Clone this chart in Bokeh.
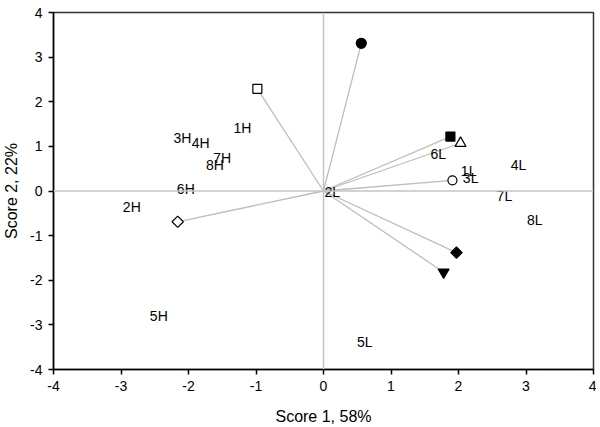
import math
from bokeh.plotting import figure
from bokeh.models import ColumnDataSource, Span, FixedTicker
from bokeh.core.properties import value
from bokeh.embed import file_html
from bokeh.resources import INLINE

# Observation scores (labels)
obs_labels = ["1H", "2H", "3H", "4H", "5H", "6H", "7H", "8H",
              "1L", "2L", "3L", "4L", "5L", "6L", "7L", "8L"]
obs_x = [-1.20, -2.84, -2.09, -1.82, -2.44, -2.04, -1.50, -1.61,
         2.15, 0.13, 2.18, 2.89, 0.61, 1.70, 2.68, 3.13]
obs_y = [1.42, -0.36, 1.18, 1.07, -2.80, 0.04, 0.73, 0.58,
         0.44, -0.02, 0.29, 0.58, -3.38, 0.84, -0.11, -0.64]

# Loading vectors (markers)
load_x = [0.56, -0.98, 1.88, 2.03, 1.91, 1.97, 1.78, -2.16]
load_y = [3.31, 2.29, 1.22, 1.07, 0.24, -1.38, -1.82, -0.69]

# marker styles (one per loading)
load_marker = ["circle", "square", "square", "triangle", "circle", "square", "inverted_triangle", "square"]
load_fill = ["black", "white", "black", "white", "white", "black", "black", "white"]
load_size = [10, 9, 9, 11, 9, 8, 11, 8]
load_angle = [0, 0, 0, 0, 0, math.pi / 4, 0, math.pi / 4]

ticks = [-4, -3, -2, -1, 0, 1, 2, 3, 4]
tick_labels = ["-4", "-3", "-2", "-1", "0", "1", "2", "3", "4"]
x_title = "Score 1, 58%"
y_title = "Score 2, 22%"

FONT = "Liberation Sans"

p = figure(width=596, height=427, x_range=(-4, 4), y_range=(-4, 4),
           output_backend="svg", toolbar_location=None,
           min_border_left=53, min_border_right=3, min_border_top=12, min_border_bottom=55)
p.background_fill_color = "white"
p.border_fill_color = "white"
p.outline_line_color = "#333333"
p.outline_line_width = 1.5
p.xgrid.visible = False
p.ygrid.visible = False

for ax in (p.xaxis[0], p.yaxis[0]):
    ax.ticker = FixedTicker(ticks=ticks)
    ax.major_label_overrides = {t: s for t, s in zip(ticks, tick_labels)}
    ax.minor_tick_line_color = None
    ax.major_tick_in = 0
    ax.major_tick_out = 5
    ax.major_tick_line_color = "black"
    ax.major_tick_line_width = 1.5
    ax.axis_line_color = "black"
    ax.axis_line_width = 1.5
    ax.major_label_text_font = FONT
    ax.major_label_text_font_size = "14px"
    ax.major_label_text_color = "black"
    ax.axis_label_text_font = FONT
    ax.axis_label_text_font_size = "16px"
    ax.axis_label_text_font_style = "normal"
    ax.axis_label_text_color = "black"

p.xaxis.axis_label = x_title
p.yaxis.axis_label = y_title
p.xaxis.major_label_standoff = 6
p.yaxis.major_label_standoff = 6
p.xaxis.axis_label_standoff = 14
p.yaxis.axis_label_standoff = 7

# zero lines
p.add_layout(Span(location=0, dimension="width", line_color="#c4c4c4", line_width=1.5))
p.add_layout(Span(location=0, dimension="height", line_color="#c4c4c4", line_width=1.5))

# vectors from origin
xs = [[0, x] for x in load_x]
ys = [[0, y] for y in load_y]
p.multi_line(xs, ys, line_color="#bdbdbd", line_width=1.3)

src = ColumnDataSource(dict(x=load_x, y=load_y, marker=load_marker, fill=load_fill,
                            size=load_size, angle=load_angle))
p.scatter("x", "y", source=src, marker="marker", fill_color="fill", size="size", angle="angle",
          line_color="black", line_width=1.2)

tsrc = ColumnDataSource(dict(x=obs_x, y=obs_y, t=obs_labels))
p.text("x", "y", text="t", source=tsrc, text_font=value(FONT), text_font_size="14px",
       text_align="center", text_baseline="middle", text_color="black")

open("out.html", "w").write(file_html(p, INLINE))
